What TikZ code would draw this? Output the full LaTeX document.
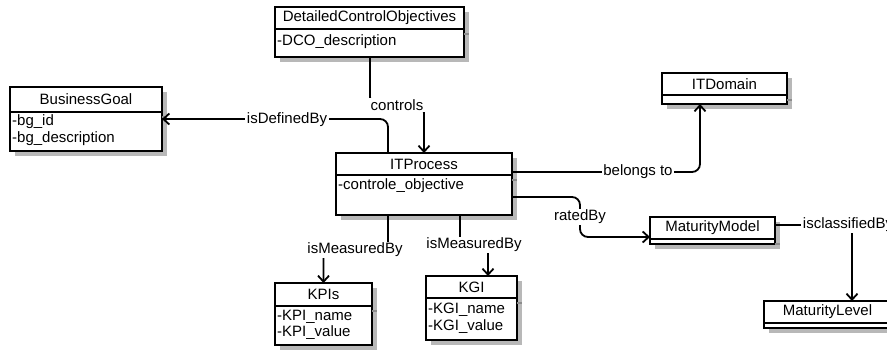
\documentclass[tikz,border=0pt]{standalone}
\usepackage{fontspec}
\setmainfont{Liberation Sans}
\usetikzlibrary{arrows.meta,calc,shadows}

\tikzset{
  classbox/.style={draw=black, line width=2.2pt, fill=white, inner sep=0pt, outer sep=0pt,
    anchor=north west,
    drop shadow={shadow xshift=5pt, shadow yshift=-5pt, fill=black!28, opacity=1}},
  divider/.style={draw=black, line width=2pt},
  ctext/.style={font=\fontsize{15}{18}\selectfont, inner sep=0pt},
  attr/.style={ctext, anchor=west},
  link/.style={draw=black, line width=1.8pt, rounded corners=8pt},
  arr/.style={-{Straight Barb[length=6pt,width=11pt]}},
  lbl/.style={ctext, fill=white, inner sep=1.5pt},
}

% UML class: name, top-left corner, width, height, header height, title
\newcommand\umlclass[6]{%
  \node[classbox, minimum width=#3pt, minimum height=#4pt] (#1) at (#2) {};
  \draw[black!45, line width=1.5pt] ([yshift=-#5pt-5pt]#1.north east) -- ++(5pt,0);
  \draw[divider] ([yshift=-#5pt]#1.north west) -- ([yshift=-#5pt]#1.north east);
  \node[ctext] (#1-title) at ($(#1.north)!0.5!([yshift=-#5pt]#1.north)$) {#6};
}

\begin{document}
\begin{tikzpicture}[x=1pt, y=-1pt]
  \useasboundingbox (0,0) rectangle (887,351);
  \fill[white] (0,0) rectangle (887,351);
  \clip (0,0) rectangle (887,351);

  % classes
  \umlclass{dco}{275,7}{189}{50}{22}{DetailedControlObjectives}
  \node[attr] (dco-a1) at ([xshift=2pt,yshift=-35pt]dco.north west) {-DCO\_description};

  \umlclass{bg}{10,87}{152}{64}{25}{BusinessGoal}
  \node[attr] (bg-a1) at ([xshift=2pt,yshift=-35pt]bg.north west) {-bg\_id};
  \node[attr] (bg-a2) at ([xshift=2pt,yshift=-52pt]bg.north west) {-bg\_description};

  \umlclass{itp}{336,153}{176}{62}{22}{ITProcess}
  \node[attr] (itp-a1) at ([xshift=2pt,yshift=-33pt]itp.north west) {-controle\_objective};

  \umlclass{itd}{662,73}{125}{31}{22}{ITDomain}

  \umlclass{mm}{650,217}{125}{27}{22}{MaturityModel}

  \umlclass{ml}{764,301}{127}{27}{22}{MaturityLevel}

  \umlclass{kpi}{275,283}{97}{62}{23}{KPIs}
  \node[attr] (kpi-a1) at ([xshift=2pt,yshift=-34pt]kpi.north west) {-KPI\_name};
  \node[attr] (kpi-a2) at ([xshift=2pt,yshift=-50pt]kpi.north west) {-KPI\_value};

  \umlclass{kgi}{426,276}{91}{64}{22}{KGI}
  \node[attr] (kgi-a1) at ([xshift=2pt,yshift=-34pt]kgi.north west) {-KGI\_name};
  \node[attr] (kgi-a2) at ([xshift=2pt,yshift=-51pt]kgi.north west) {-KGI\_value};

  % associations
  \draw[link, arr] ([xshift=95pt]dco.south west) -- ++(0,48) -| (itp.north);
  \node[lbl] (l-controls) at (397,105) {controls};

  \draw[link, arr] ([xshift=52pt]itp.north west) |- (bg.east);
  \node[lbl] (l-defined) at (287,120) {isDefinedBy};

  \draw[link, arr] ([yshift=-19pt]itp.north east) -| ([xshift=38pt]itd.south west);
  \node[lbl] (l-belongs) at (638,172) {belongs to};

  \draw[link, arr] ([yshift=-44pt]itp.north east) -- ++(68,0) |- ([yshift=-20pt]mm.north west);
  \node[lbl] (l-rated) at (580,217) {ratedBy};

  \draw[link, arr] ([yshift=-8pt]mm.north east) -| ([xshift=88pt]ml.north west);
  \node[lbl] (l-classified) at (848,225) {isclassifiedBy};

  \draw[link, arr] ([xshift=52pt]itp.south west) -- ++(0,35) -| (kpi.north);
  \node[lbl] (l-kpi) at (355,250) {isMeasuredBy};

  \draw[link, arr] ([xshift=124pt]itp.south west) -- ++(0,30) -| ([xshift=62pt]kgi.north west);
  \node[lbl] (l-kgi) at (474,245) {isMeasuredBy};
\end{tikzpicture}
\end{document}
